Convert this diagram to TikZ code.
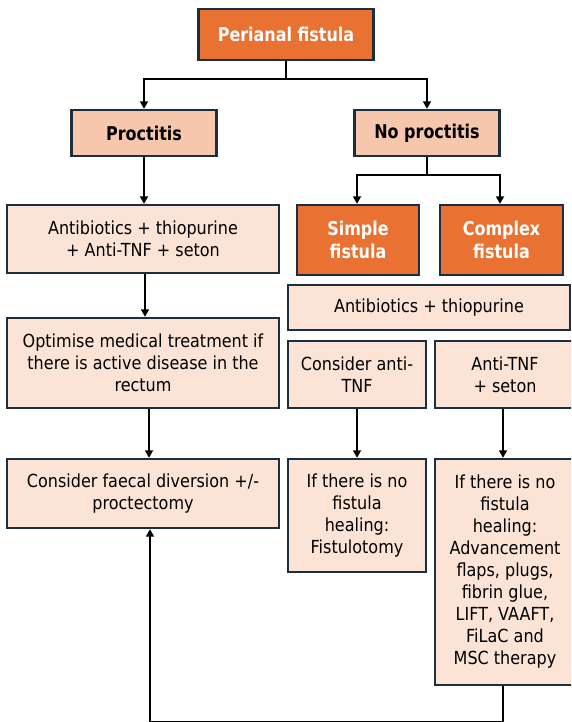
\documentclass[tikz,border=0pt]{standalone}
\usepackage{fontspec}
\setmainfont{DejaVu Sans}[FakeStretch=0.89]
\newfontfamily\boldfam{DejaVu Sans}[FakeStretch=0.84]
\usetikzlibrary{arrows.meta}
\definecolor{borderc}{HTML}{1C2F3E}
\definecolor{orangec}{HTML}{E97132}
\definecolor{peach}{HTML}{F6C6AD}
\definecolor{pale}{HTML}{FBE3D6}
\begin{document}
\begin{tikzpicture}[x=1pt,y=-1pt,
  box/.style={draw=borderc, line width=2.4pt, rectangle, inner sep=0pt, align=center,
    font=\fontsize{18}{22}\selectfont, text=black},
  lbox/.style={box, fill=pale},
  obox/.style={box, fill=orangec, text=white, font=\fontsize{19}{22.5}\boldfam\bfseries},
  pbox/.style={box, fill=peach, font=\fontsize{19}{22.5}\boldfam\bfseries},
  conn/.style={line width=1.7pt, draw=black},
  arr/.style={conn, -{Triangle[length=7.5pt,width=8pt]}}]
\useasboundingbox (0,0) rectangle (571,722);
\clip (0,0) rectangle (571,722);

% top level
\node[obox, minimum width=175pt, minimum height=51pt] (top) at (286,34.5) {Perianal fistula};
\node[pbox, minimum width=145pt, minimum height=46pt] (proc) at (144,133) {Proctitis};
\node[pbox, minimum width=145pt, minimum height=46pt] (noproc) at (427,133) {No proctitis};

% left column
\node[lbox, minimum width=272pt, minimum height=68pt] (ab1) at (143,239) {Antibiotics + thiopurine\\+ Anti-TNF + seton};
\node[lbox, minimum width=272pt, minimum height=90pt] (optim) at (143,363) {Optimise medical treatment if\\there is active disease in the\\rectum};
\node[lbox, minimum width=272pt, minimum height=69pt] (faecal) at (143,493.5) {Consider faecal diversion +/-\\proctectomy};

% right column
\node[obox, minimum width=122pt, minimum height=70pt] (simple) at (358,240) {Simple\\fistula};
\node[obox, minimum width=123pt, minimum height=70pt] (complex) at (501.5,240) {Complex\\fistula};
\node[lbox, minimum width=282pt, minimum height=45pt] (ab2) at (429,307.5) {Antibiotics + thiopurine};
\node[lbox, minimum width=138pt, minimum height=67pt] (consanti) at (357,374.5) {Consider anti-\\TNF};
\node[lbox, minimum width=140pt, minimum height=67pt] (antitnf) at (505,374.5) {Anti-TNF\\+ seton};
\node[lbox, minimum width=138pt, minimum height=113pt] (fistulo) at (357,515.5) {If there is no\\fistula\\healing:\\Fistulotomy};
\node[lbox, minimum width=140pt, minimum height=226pt] (big) at (505,572) {If there is no\\fistula\\healing:\\Advancement\\flaps, plugs,\\fibrin glue,\\LIFT, VAAFT,\\FiLaC and\\MSC therapy};

% connectors
\draw[arr] (top.south) -- (top.south |- 0,79) -| (proc.north);
\draw[arr] (top.south) -- (top.south |- 0,79) -| (noproc.north);
\draw[arr] (proc.south) -- (proc.south |- ab1.north);
\draw[arr] (noproc.south) -- (noproc.south |- 0,175) -| ([xshift=-1pt]simple.north);
\draw[arr] (noproc.south) -- (noproc.south |- 0,175) -| ([xshift=-1.5pt]complex.north);
\draw[arr] ([xshift=2pt]ab1.south) -- ([xshift=2pt]optim.north);
\draw[arr] ([xshift=6pt]optim.south) -- ([xshift=6pt]faecal.north);
\draw[arr] (consanti.south) -- (fistulo.north);
\draw[arr] ([xshift=-2pt]antitnf.south) -- ([xshift=-2pt]big.north);
\draw[arr] ([xshift=-2pt]big.south) -- ++(0,36) -| ([xshift=7pt]faecal.south);
\end{tikzpicture}
\end{document}
